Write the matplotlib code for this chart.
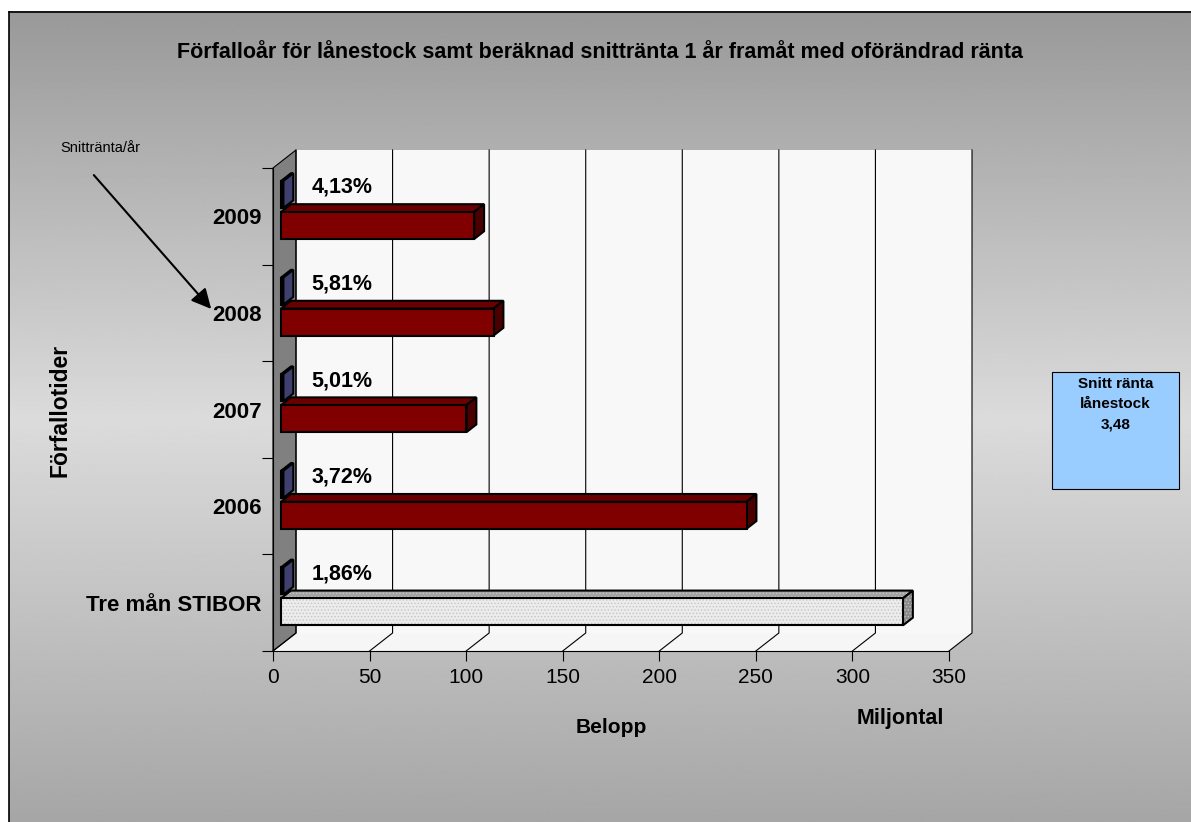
import numpy as np
import matplotlib
matplotlib.use("Agg")
import matplotlib.pyplot as plt
from matplotlib.patches import Polygon, Rectangle
from matplotlib.lines import Line2D
from matplotlib.transforms import IdentityTransform

plt.rcParams['font.family'] = ['Liberation Sans', 'DejaVu Sans']
plt.rcParams['hatch.linewidth'] = 0.6

# Data
categories = ["Tre mån STIBOR", "2006", "2007", "2008", "2009"]
amounts = [322, 241, 96, 110, 100]         # miljoner
rate_bars = [1.2, 1.2, 1.2, 1.2, 1.2]      # blue series (thin bars)
rate_labels = ["1,86%", "3,72%", "5,01%", "5,81%", "4,13%"]
x_ticks = [0, 50, 100, 150, 200, 250, 300, 350]
avg_rate = "3,48"

W, H = 1191, 822
fig = plt.figure(figsize=(W / 100, H / 100), dpi=100)
fig.patch.set_facecolor('white')

# background panel with grey gradient
bg = fig.add_axes([0, 0, 1, 1])
bg.set_xlim(0, W)
bg.set_ylim(H, 0)
bg.axis('off')
yy = np.linspace(12, H, 400)
shade = np.interp(yy, [12, 420, H], [0.60, 0.86, 0.65])
bg.imshow(np.repeat(shade[:, None], 2, axis=1), cmap='gray', vmin=0, vmax=1,
          extent=(9, W, H, 12), aspect='auto', interpolation='bilinear', zorder=0)
bg.plot([9, 9], [H, 12], color='black', lw=1.2, zorder=1)
bg.plot([9, W], [12, 12], color='black', lw=1.2, zorder=1)

# main axes = front plane of the 3D box
ax = fig.add_axes([273 / W, 1 - 651 / H, 676 / W, 483 / H])
ax.set_xlim(0, 350)
ax.set_ylim(0, 5)
ax.patch.set_visible(False)
for s in ['top', 'right']:
    ax.spines[s].set_visible(False)
for s in ['left', 'bottom']:
    ax.spines[s].set_color('black')
    ax.spines[s].set_linewidth(0.8)

ax.set_xticks(x_ticks)
ax.tick_params(axis='x', direction='out', length=7, width=0.8, labelsize=15, pad=5)
ax.set_yticks(range(6))
ax.set_yticklabels([])
ax.tick_params(axis='y', which='major', direction='out', length=8, width=0.8)
ax.set_yticks([i + 0.5 for i in range(len(categories))], minor=True)
ax.set_yticklabels(categories, minor=True, fontsize=16, fontweight='bold')
ax.tick_params(axis='y', which='minor', length=0, pad=8)

DX, DY = 23, 18  # full depth in pixels


def pt(x, y, d=0.0):
    px, py = ax.transData.transform((x, y))
    return (px + d * DX, py + d * DY)


def face(pts, z=1, **kw):
    ax.add_patch(Polygon(pts, closed=True, transform=IdentityTransform(),
                         clip_on=False, zorder=z, **kw))


# walls and floor
face([pt(0, 0, 1), pt(350, 0, 1), pt(350, 5, 1), pt(0, 5, 1)],
     z=0.5, facecolor='#f8f8f8', edgecolor='none')
face([pt(0, 0, 0), pt(350, 0, 0), pt(350, 0, 1), pt(0, 0, 1)],
     z=0.5, facecolor='#f6f6f6', edgecolor='none')
face([pt(0, 0, 0), pt(0, 5, 0), pt(0, 5, 1), pt(0, 0, 1)],
     z=0.8, facecolor='#808080', edgecolor='black', linewidth=0.8)

for v in x_ticks:
    p = [pt(v, 0, 0), pt(v, 0, 1), pt(v, 5, 1)]
    ax.add_line(Line2D([q[0] for q in p], [q[1] for q in p], color='black',
                       lw=0.8, transform=IdentityTransform(), clip_on=False, zorder=0.9))

D0, D1 = 0.35, 0.78


def bar3d(x1, y0, y1, front, top, side, hatch=None):
    f = [pt(0, y0, D0), pt(x1, y0, D0), pt(x1, y1, D0), pt(0, y1, D0)]
    t = [pt(0, y1, D0), pt(x1, y1, D0), pt(x1, y1, D1), pt(0, y1, D1)]
    s = [pt(x1, y0, D0), pt(x1, y0, D1), pt(x1, y1, D1), pt(x1, y1, D0)]
    for pts, col in [(t, top), (s, side), (f, front)]:
        if hatch:
            face(pts, z=3, facecolor=col, edgecolor='#c4c4c4', linewidth=0, hatch=hatch)
            face(pts, z=3, fill=False, edgecolor='black', linewidth=1.5)
        else:
            face(pts, z=3, facecolor=col, edgecolor='black', linewidth=1.5)


for i, cat in enumerate(categories):
    c = i + 0.5
    bar3d(rate_bars[i], c + 0.02, c + 0.30, '#6666aa', '#55558f', '#404070')
    if i == 0:
        bar3d(amounts[i], c - 0.30, c - 0.02, '#ececec', '#a4a4a4', '#8a8a8a', hatch='.....')
    else:
        bar3d(amounts[i], c - 0.30, c - 0.02, '#800000', '#6a0000', '#4a0000')
    ax.annotate(rate_labels[i], xy=(rate_bars[i], c + 0.30), xytext=(36, 0),
                textcoords='offset pixels', ha='left', va='center',
                fontsize=15.5, fontweight='bold', zorder=4)

# texts
fig.text(600 / W, 1 - 52 / H,
         "Förfalloår för lånestock samt beräknad snittränta 1 år framåt med oförändrad ränta",
         ha='center', va='center', fontsize=15.5, fontweight='bold')
fig.text(60 / W, 1 - 410 / H, "Förfallotider", rotation=90, ha='center', va='center',
         fontsize=16.5, fontweight='bold')
fig.text(611 / W, 1 - 727 / H, "Belopp", ha='center', va='center', fontsize=15, fontweight='bold')
fig.text(900 / W, 1 - 718 / H, "Miljontal", ha='center', va='center', fontsize=15.5, fontweight='bold')
fig.text(100 / W, 1 - 148 / H, "Snittränta/år", ha='center', va='center', fontsize=10.5)

bg.annotate('', xy=(213, 311), xytext=(92, 173),
            arrowprops=dict(arrowstyle='-|>', lw=1.5, mutation_scale=30, color='black'),
            zorder=2)

# average rate box
bg.add_patch(Rectangle((1052, 372), 127, 117, facecolor='#99ccff', edgecolor='black',
                       linewidth=0.8, zorder=2))
for k, line in enumerate(["Snitt ränta", "lånestock", avg_rate]):
    bg.text(1115.5, 384 + 20 * k, line, ha='center', va='center', fontsize=11,
            fontweight='bold', zorder=3)

fig.savefig("out.png", dpi=100)
